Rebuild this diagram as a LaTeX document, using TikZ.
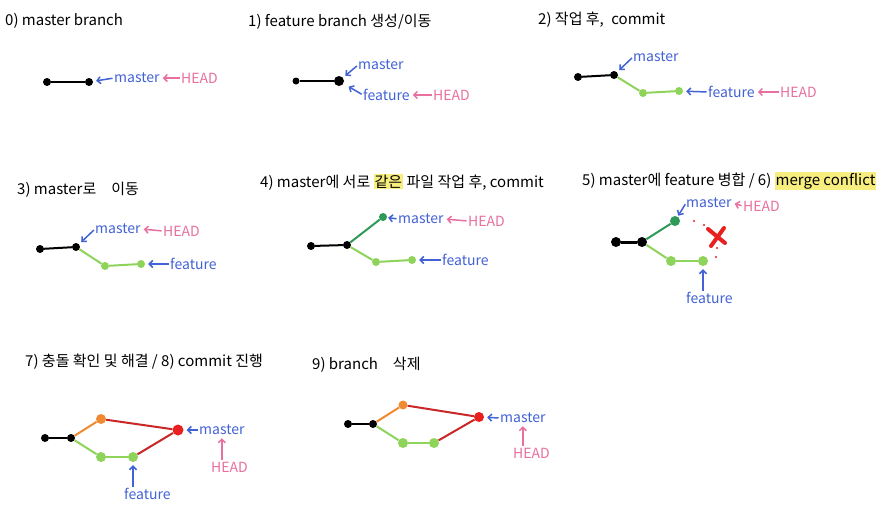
\documentclass[tikz,border=0pt]{standalone}
\usepackage{fontspec}
\setmainfont{Noto Sans CJK KR}
\usetikzlibrary{arrows.meta}
\definecolor{lblue}{HTML}{4262D6}
\definecolor{lpink}{HTML}{E8709F}
\definecolor{lgreen}{HTML}{8ED45A}
\definecolor{dgreen}{HTML}{2E9A58}
\definecolor{orng}{HTML}{F08A30}
\definecolor{rdot}{HTML}{E82020}
\definecolor{rline}{HTML}{C82828}
\definecolor{hly}{HTML}{F8EE80}
\newcommand{\hlw}[1]{{\setlength{\fboxsep}{1pt}\colorbox{hly}{#1}}}
\begin{document}
\begin{tikzpicture}[x=1pt,y=-1pt,
  title/.style={anchor=west,inner sep=0pt,font=\fontsize{15}{18}\selectfont},
  lbl/.style={anchor=west,inner sep=0pt,font=\fontsize{14}{16}\selectfont},
  cdot/.style={circle,inner sep=0pt,minimum size=#1},
  cdot/.default=8pt,
  ln/.style={line width=2pt},
  arr/.style={-{Straight Barb[length=3.5pt,width=7pt]},line width=1.5pt,shorten <=1.5pt,shorten >=3pt}]
\useasboundingbox[fill=white] (0,0) rectangle (884,507);

% ---------- panel 0
\node[title] (t0) at (5,21) {0) master branch};
\node[cdot,fill=black] (a0) at (47,82) {};
\node[cdot,fill=black] (b0) at (89,82) {};
\draw[ln] (a0) -- (b0);
\node[lbl,text=lblue] (m0) at (114,78) {master};
\node[lbl,text=lpink] (h0) at (181,78) {HEAD};
\draw[arr,lblue] (m0.west) -- (b0);
\draw[arr,lpink] (h0.west) -- (m0.east);

% ---------- panel 1
\node[title] (t1) at (248,22) {1) feature branch 생성/이동};
\node[cdot=7pt,fill=black] (a1) at (296,81) {};
\node[cdot=10pt,fill=black] (b1) at (339,81) {};
\draw[ln] (a1) -- (b1);
\node[lbl,text=lblue] (m1) at (358,65) {master};
\node[lbl,text=lblue] (f1) at (363,95) {feature};
\node[lbl,text=lpink] (h1) at (433,95) {HEAD};
\draw[arr,lblue] (m1.west) -- (b1);
\draw[arr,lblue,shorten >=6pt] (f1.west) -- (b1);
\draw[arr,lpink] (h1.west) -- (f1.east);

% ---------- panel 2
\node[title] (t2) at (538,20) {2) 작업 후,\enspace commit};
\node[cdot,fill=black] (a2) at (578,77) {};
\node[cdot,fill=black] (b2) at (614,75) {};
\node[cdot,fill=lgreen] (g2a) at (643,93) {};
\node[cdot,fill=lgreen] (g2b) at (679,91) {};
\draw[ln] (a2) -- (b2);
\draw[ln,lgreen] (b2) -- (g2a);
\draw[ln,lgreen] (g2a) -- (g2b);
\node[lbl,text=lblue] (m2) at (633,57) {master};
\node[lbl,text=lblue] (f2) at (708,92) {feature};
\node[lbl,text=lpink] (h2) at (780,92) {HEAD};
\draw[arr,lblue] (m2.west) -- (b2);
\draw[arr,lblue] (f2.west) -- (g2b);
\draw[arr,lpink] (h2.west) -- (f2.east);

% ---------- panel 3
\node[title] (t3) at (17,190) {3) master로\quad 이동};
\node[cdot,fill=black] (a3) at (40,249) {};
\node[cdot,fill=black] (b3) at (76,247) {};
\node[cdot,fill=lgreen] (g3a) at (105,266) {};
\node[cdot,fill=lgreen] (g3b) at (141,264) {};
\draw[ln] (a3) -- (b3);
\draw[ln,lgreen] (b3) -- (g3a);
\draw[ln,lgreen] (g3a) -- (g3b);
\node[lbl,text=lblue] (m3) at (95,229) {master};
\node[lbl,text=lpink] (h3) at (163,231) {HEAD};
\node[lbl,text=lblue] (f3) at (170,264) {feature};
\draw[arr,lblue] (m3.west) -- (b3);
\draw[arr,lpink] (h3.west) -- (m3.east);
\draw[arr,lblue] (f3.west) -- (g3b);

% ---------- panel 4
\node[title] (t4) at (260,182) {4) master에 서로 \hlw{같은} 파일 작업 후, commit};
\node[cdot,fill=black] (a4) at (311,246) {};
\node[cdot,fill=black] (b4) at (347,245) {};
\node[cdot,fill=dgreen] (dg4) at (383,217) {};
\node[cdot,fill=lgreen] (g4a) at (376,262) {};
\node[cdot,fill=lgreen] (g4b) at (412,260) {};
\draw[ln] (a4) -- (b4);
\draw[ln,dgreen] (b4) -- (dg4);
\draw[ln,lgreen] (b4) -- (g4a);
\draw[ln,lgreen] (g4a) -- (g4b);
\node[lbl,text=lblue] (m4) at (398,219) {master};
\node[lbl,text=lpink] (h4) at (468,221) {HEAD};
\node[lbl,text=lblue] (f4) at (442,260) {feature};
\draw[arr,lblue,shorten >=1pt] (m4.west) -- (dg4);
\draw[arr,lpink] (h4.west) -- (m4.east);
\draw[arr,lblue] (f4.west) -- (g4b);

% ---------- panel 5
\node[title] (t5) at (582,181) {5) master에 feature 병합 / 6) \hlw{merge conflict}};
\node[cdot=10pt,fill=black] (a5) at (616,242) {};
\node[cdot=10pt,fill=black] (b5) at (642,242) {};
\node[cdot=10pt,fill=dgreen] (dg5) at (675,221) {};
\node[cdot=10pt,fill=lgreen] (g5a) at (671,261) {};
\node[cdot=10pt,fill=lgreen] (g5b) at (703,261) {};
\draw[ln,line width=3pt] (a5) -- (b5);
\draw[ln,dgreen] (b5) -- (dg5);
\draw[ln,lgreen] (b5) -- (g5a);
\draw[ln,lgreen] (g5a) -- (g5b);
\node[lbl,text=lblue] (m5) at (686,203) {master};
\node[lbl,text=lpink] (h5) at (743,206) {HEAD};
\node[lbl,text=lblue] (f5) at (686,298) {feature};
\draw[arr,lblue,shorten >=1pt] (m5.west) -- (dg5);
\draw[arr,lpink] (h5.west) -- (m5.east);
\draw[arr,lblue] (f5.north -| g5b) -- (g5b);
\fill[rdot] (694,221) circle (1.2pt) (704,225) circle (1.2pt) (717,248) circle (1.2pt) (716,257) circle (1.2pt);
\draw[rdot,line width=4pt,line cap=round] (708,229) -- (725,243) (724,228) -- (711,246);

% ---------- panel 7
\node[title] (t7) at (25,362) {7) 충돌 확인 및 해결 / 8) commit 진행};
\node[cdot,fill=black] (a7) at (45,438) {};
\node[cdot,fill=black] (b7) at (71,438) {};
\node[cdot=10pt,fill=orng] (o7) at (101,419) {};
\node[cdot=11pt,fill=rdot] (r7) at (178,430) {};
\node[cdot=10pt,fill=lgreen] (g7a) at (101,457) {};
\node[cdot=10pt,fill=lgreen] (g7b) at (133,457) {};
\draw[ln] (a7) -- (b7);
\draw[ln,orng] (b7) -- (o7);
\draw[ln,rline] (o7) -- (r7);
\draw[ln,lgreen] (b7) -- (g7a);
\draw[ln,lgreen] (g7a) -- (g7b);
\draw[ln,rline] (g7b) -- (r7);
\node[lbl,text=lblue] (m7) at (199,430) {master};
\node[lbl,text=lpink] (h7) at (211,467) {HEAD};
\node[lbl,text=lblue] (f7) at (124,494) {feature};
\draw[arr,lblue] (m7.west) -- (r7);
\draw[arr,lpink] (h7.north -| m7) -- (m7.south);
\draw[arr,lblue] (f7.north -| g7b) -- (g7b);

% ---------- panel 9
\node[title] (t9) at (312,365) {9) branch\quad 삭제};
\node[cdot,fill=black] (a9) at (348,424) {};
\node[cdot,fill=black] (b9) at (373,424) {};
\node[cdot=9pt,fill=orng] (o9) at (403,405) {};
\node[cdot=10pt,fill=rdot] (r9) at (479,417) {};
\node[cdot=10pt,fill=lgreen] (g9a) at (403,443) {};
\node[cdot=10pt,fill=lgreen] (g9b) at (434,443) {};
\draw[ln] (a9) -- (b9);
\draw[ln,orng] (b9) -- (o9);
\draw[ln,rline] (o9) -- (r9);
\draw[ln,lgreen] (b9) -- (g9a);
\draw[ln,lgreen] (g9a) -- (g9b);
\draw[ln,rline] (g9b) -- (r9);
\node[lbl,text=lblue] (m9) at (500,418) {master};
\node[lbl,text=lpink] (h9) at (513,453) {HEAD};
\draw[arr,lblue] (m9.west) -- (r9);
\draw[arr,lpink] (h9.north -| m9) -- (m9.south);
\end{tikzpicture}
\end{document}
